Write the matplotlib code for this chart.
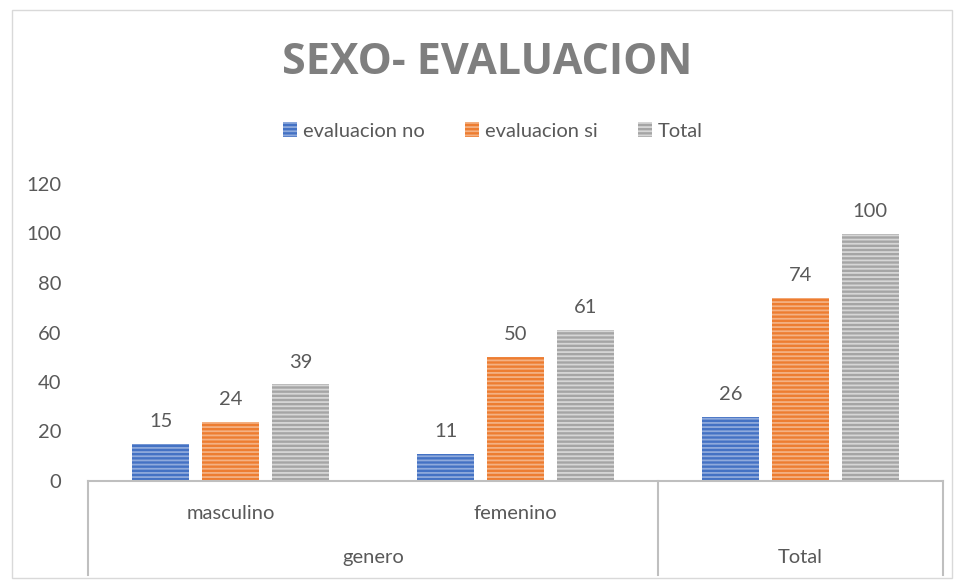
import matplotlib
matplotlib.use('Agg')
import matplotlib.pyplot as plt
from matplotlib.patches import Patch, Rectangle
import numpy as np

plt.rcParams['font.family'] = ['Lato', 'DejaVu Sans']
plt.rcParams['hatch.linewidth'] = 1.3

categories = ['masculino', 'femenino', 'Total']
groups = ['genero', 'Total']
series = ['evaluacion no', 'evaluacion si', 'Total']
eval_no = [15, 11, 26]
eval_si = [24, 50, 74]
total = [39, 61, 100]
yticks = [0, 20, 40, 60, 80, 100, 120]

colors = ['#4472C4', '#ED7D31', '#A5A5A5']
stripes = ['#8FAADC', '#F4B183', '#D6D6D6']
txt = '#595959'
line = '#BFBFBF'
fs = 14.5

fig = plt.figure(figsize=(9.57, 5.82), dpi=100)
fig.patches.append(Rectangle((12/957, 4/582), 940/957, 568/582, transform=fig.transFigure,
                             fill=False, edgecolor='#D9D9D9', linewidth=1))
ax = fig.add_axes([88/957, 1-481/582, 855/957, 297/582])

x = np.arange(len(categories))
w = 0.2
offs = [-0.245, 0, 0.245]
for vals, off, c, s in zip([eval_no, eval_si, total], offs, colors, stripes):
    ax.bar(x + off, vals, w, color=c, linewidth=0)
    ax.bar(x + off, vals, w, facecolor='none', edgecolor=s, hatch='----', linewidth=0)
    for xi, v in zip(x + off, vals):
        ax.annotate(str(v), (xi, v), xytext=(0, 10), textcoords='offset points',
                    ha='center', va='bottom', fontsize=fs, color=txt)

ax.set_xlim(-0.5, 2.5)
ax.set_ylim(0, 120)
ax.set_yticks(yticks)
ax.tick_params(axis='y', length=0, labelsize=fs, labelcolor=txt, pad=19)
ax.set_xticks([])
for sp in ['top', 'right', 'left']:
    ax.spines[sp].set_visible(False)
ax.spines['bottom'].set_color(line)
ax.spines['bottom'].set_linewidth(1.5)

# eje de categorias en dos niveles
tr = ax.get_xaxis_transform()
for xv in [-0.5, 1.5, 2.5]:
    ax.plot([xv, xv], [0, -0.316], transform=tr, color=line, lw=1.5, clip_on=False)
for xi, cat in zip(x[:2], categories[:2]):
    ax.text(xi, -0.108, cat, transform=tr, ha='center', va='center', fontsize=fs, color=txt)
ax.text(0.5, -0.256, groups[0], transform=tr, ha='center', va='center', fontsize=fs, color=txt)
ax.text(2.0, -0.256, groups[1], transform=tr, ha='center', va='center', fontsize=fs, color=txt)

fig.text(487/957, 1-62/582, 'SEXO- EVALUACION', ha='center', va='center',
         fontsize=31, fontweight='bold', color='#7F7F7F', family=['Open Sans', 'DejaVu Sans'])

handles = [Patch(facecolor=c, edgecolor=s, hatch='----', linewidth=0) for c, s in zip(colors, stripes)]
fig.legend(handles, series, loc='center', bbox_to_anchor=(493/957, 1-131/582), ncol=3,
           frameon=False, fontsize=fs, labelcolor=txt, handlelength=0.7, handleheight=0.7,
           handletextpad=0.3, columnspacing=2.0)

fig.savefig('out.png', dpi=100)
